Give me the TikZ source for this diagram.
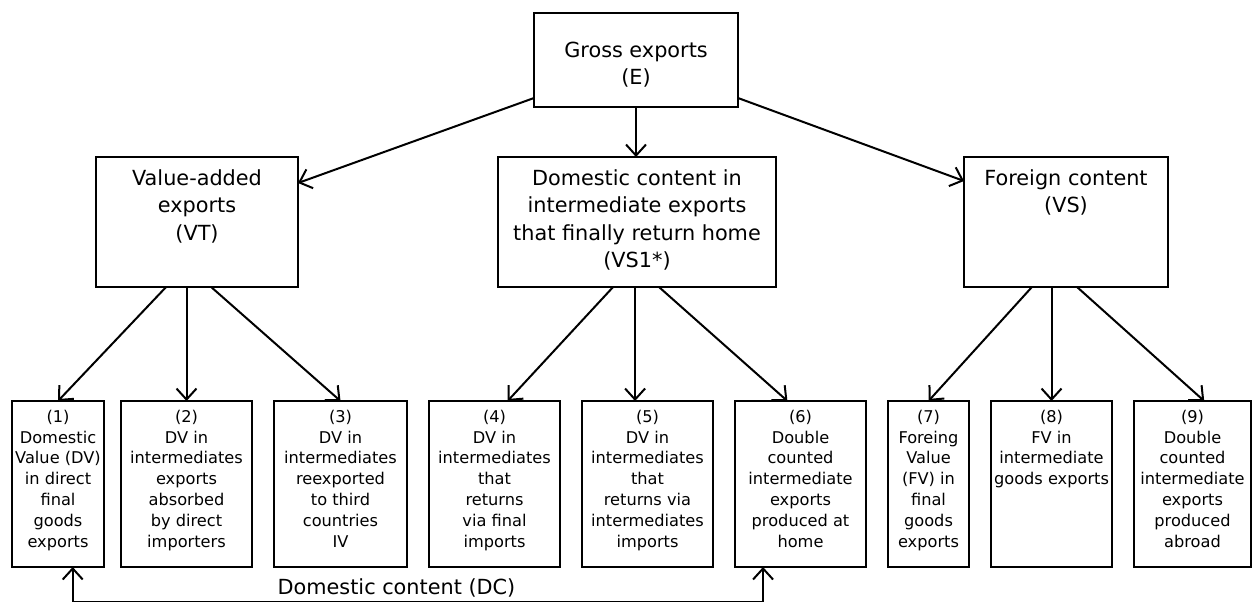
\documentclass[tikz,border=0pt]{standalone}
\usepackage{fontspec}
\setmainfont{DejaVu Sans}
\usetikzlibrary{arrows.meta, positioning, calc}

% lines stacked from the top, first line on the baseline
\newcommand{\toplines}[1]{\begin{tabular}[t]{@{}c@{}}#1\end{tabular}}

\begin{document}
\begin{tikzpicture}[
    x=0.5pt, y=-0.5pt,
    node distance=0.5cm and 11pt,
    head/.style={
        rectangle,
        draw,
        line width=1.3pt,
        inner sep=0pt,
        outer sep=0pt,
        font=\fontsize{10.4}{13.75}\selectfont
    },
    branch/.style={
        head,
        text height=14pt,
        text depth=51pt
    },
    leaf/.style={
        rectangle,
        draw,
        line width=1.3pt,
        inner sep=0pt,
        outer sep=0pt,
        text height=10.6pt,
        text depth=72.4pt,
        font=\fontsize{8.1}{10.4}\selectfont
    },
    arrow/.style={-{Straight Barb[length=5.5pt, width=10pt]}, line width=1pt},
    both/.style={{Straight Barb[length=5.5pt, width=10pt]}-{Straight Barb[length=5.5pt, width=10pt]}, line width=1pt}
]
\useasboundingbox (0,0) rectangle (1252,601);

\node[head, minimum width=102pt, text height=22pt, text depth=25pt] (gross_exp) at (636,60) {
\toplines{Gross exports\\(E)}
};

\node[branch, minimum width=101pt] (va_exp) at (197,222) {
\toplines{Value-added\\exports\\(VT)}
};
\node[branch, minimum width=139pt] (dc_return) at (637,222) {
\toplines{Domestic content in\\intermediate exports\\that finally return home\\(VS1*)}
};
\node[branch, minimum width=102pt] (fc_exp) at (1066,222) {
\toplines{Foreign content\\(VS)}
};

\node[leaf, minimum width=46pt, anchor=north west] (dv_final) at (12,401) {
\toplines{(1)\\Domestic\\Value (DV)\\in direct\\final\\goods\\exports}
};
\node[leaf, minimum width=65.5pt, right=8.5pt of dv_final] (dv_absorbed) {
\toplines{(2)\\DV in\\intermediates\\exports\\absorbed\\by direct\\importers}
};
\node[leaf, minimum width=66.5pt, right=of dv_absorbed] (dv_reexp) {
\toplines{(3)\\DV in\\intermediates\\reexported\\to third\\countries\\IV}
};
\node[leaf, minimum width=65.5pt, right=of dv_reexp] (dv_final_ret) {
\toplines{(4)\\DV in\\intermediates\\that\\returns\\via final\\imports}
};
\node[leaf, minimum width=65.5pt, right=of dv_final_ret] (dv_int_ret) {
\toplines{(5)\\DV in\\intermediates\\that\\returns via\\intermediates\\imports}
};
\node[leaf, minimum width=65.5pt, right=of dv_int_ret] (dc_double) {
\toplines{(6)\\Double\\counted\\intermediate\\exports\\produced at\\home}
};
\node[leaf, minimum width=40.5pt, right=of dc_double] (fv_final) {
\toplines{(7)\\Foreing\\Value\\(FV) in\\final\\goods\\exports}
};
\node[leaf, minimum width=60.5pt, right=of fv_final] (fv_int) {
\toplines{(8)\\FV in\\intermediate\\goods exports}
};
\node[leaf, minimum width=58.5pt, right=of fv_int] (fc_double) {
\toplines{(9)\\Double\\counted\\intermediate\\exports\\produced\\abroad}
};

\node[anchor=base, font=\fontsize{10.4}{12}\selectfont] (dc_label) at (396.5,594) {Domestic content (DC)};

\draw[arrow] ($(gross_exp.south west)+(0,-9)$) -- ($(va_exp.north east)+(0,26)$);
\draw[arrow] (gross_exp.south) -- (gross_exp.south |- dc_return.north);
\draw[arrow] ($(gross_exp.south east)+(0,-9)$) -- ($(fc_exp.north west)+(0,24)$);

\draw[arrow] ($(va_exp.south west)!0.347!(va_exp.south east)$) -- (dv_final.north);
\draw[arrow] (dv_absorbed.north |- va_exp.south) -- (dv_absorbed.north);
\draw[arrow] ($(va_exp.south west)!0.57!(va_exp.south east)$) -- (dv_reexp.north);

\draw[arrow] ($(dc_return.south west)!0.414!(dc_return.south east)$) -- ($(dv_final_ret.north west)!0.6!(dv_final_ret.north east)$);
\draw[arrow] ($(dc_return.south west)!0.493!(dc_return.south east)$) coordinate (dc_mid) -- (dc_mid |- dv_int_ret.north);
\draw[arrow] ($(dc_return.south west)!0.579!(dc_return.south east)$) -- ($(dc_double.north west)!0.4!(dc_double.north east)$);

\draw[arrow] ($(fc_exp.south west)!0.333!(fc_exp.south east)$) -- (fv_final.north);
\draw[arrow] (fv_int.north |- fc_exp.south) -- (fv_int.north);
\draw[arrow] ($(fc_exp.south west)!0.554!(fc_exp.south east)$) -- ($(fc_double.north west)!0.6!(fc_double.north east)$);

\draw[both] ($(dv_final.south west)!0.66!(dv_final.south east)$) -- ++(0,34.6) -| ($(dc_double.south west)!0.214!(dc_double.south east)$);

\end{tikzpicture}
\end{document}
